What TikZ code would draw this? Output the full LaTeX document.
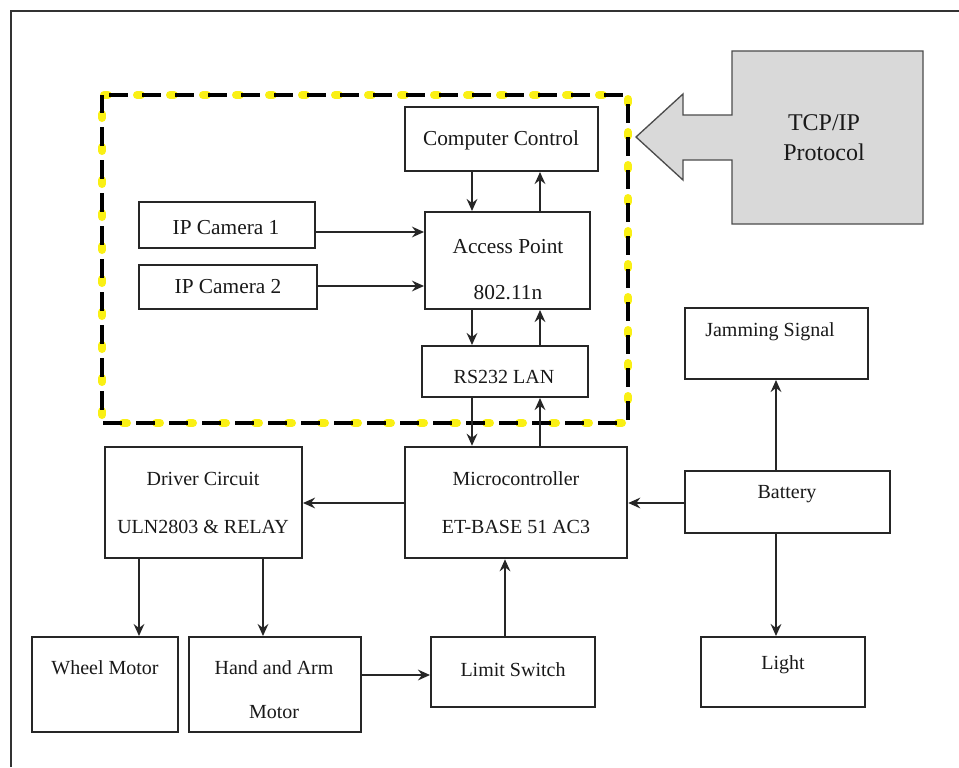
\documentclass[tikz,border=0pt]{standalone}
\usepackage{fontspec}
\setmainfont{Liberation Serif}
\usetikzlibrary{arrows.meta,fit}
\definecolor{tcpgray}{RGB}{217,217,217}
\definecolor{dashyellow}{RGB}{250,240,20}
\begin{document}
\begin{tikzpicture}[x=0.75pt,y=-0.75pt,
  box/.style={draw=black!85, line width=1.5pt, inner sep=0pt},
  txt/.style={font=\fontsize{15}{18}\selectfont, text=black!90, inner sep=0pt},
  bigtxt/.style={txt, font=\fontsize{16}{19}\selectfont},
  tcptxt/.style={txt, font=\fontsize{18}{21}\selectfont},
  arr/.style={draw=black!85, line width=1.5pt, -{Stealth[length=9pt,width=8pt,inset=3pt]}}]
\fill[white] (0,0) rectangle (959,767);
\useasboundingbox (0,0) rectangle (959,767);
% outer frame
\draw[line width=1pt, black!80] (11,767) -- (11,11) -- (959,11);
% dashed group
\draw[dashyellow, line width=6pt, line cap=round, dash pattern=on 3pt off 21.75pt, dash phase=23.25pt]
  (102,95) -- (628,95) -- (628,423) -- (102,423) -- cycle;
\draw[black, line width=3pt, dash pattern=on 14pt off 10.75pt, dash phase=19.4pt]
  (102,95) -- (628,95) -- (628,423) -- (102,423) -- cycle;
% TCP/IP shape
\draw[fill=tcpgray, draw=black!70, line width=1pt, line join=miter]
  (732,51) -- (923,51) -- (923,224) -- (732,224) -- (732,160) -- (683,160) -- (683,180)
  -- (636,137) -- (683,94) -- (683,115) -- (732,115) -- cycle;
\node[tcptxt] (tcpt) at (824,123) {TCP/IP};
\node[tcptxt] (tcpp) at (824,152) {Protocol};
% boxes
\node[box, fit={(405,107) (598,171)}] (cc) {};
\node[box, fit={(139,202) (315,248)}] (cam1) {};
\node[box, fit={(139,265) (317,309)}] (cam2) {};
\node[box, fit={(425,212) (590,309)}] (ap) {};
\node[box, fit={(422,346) (588,397)}] (rs) {};
\node[box, line width=1.9pt, fit={(405,447) (627,558)}] (mc) {};
\node[box, fit={(105,447) (302,558)}] (dr) {};
\node[box, fit={(685,308) (868,379)}] (jam) {};
\node[box, fit={(685,471) (890,533)}] (bat) {};
\node[box, fit={(701,637) (865,707)}] (light) {};
\node[box, fit={(431,637) (595,707)}] (lim) {};
\node[box, fit={(32,637) (178,732)}] (wheel) {};
\node[box, fit={(189,637) (361,732)}] (hand) {};
% texts
\node[bigtxt] (cct) at (501,140) {Computer Control};
\node[bigtxt] (cam1t) at (226,228) {IP Camera 1};
\node[bigtxt] (cam2t) at (228,287) {IP Camera 2};
\node[bigtxt] (apt1) at (508,247) {Access Point};
\node[bigtxt] (apt2) at (508,293) {802.11n};
\node[txt] (rst) at (504,377) {RS232 LAN};
\node[txt] (mct1) at (516,479) {Microcontroller};
\node[txt] (mct2) at (516,527) {ET-BASE 51 AC3};
\node[txt] (drt1) at (203,479) {Driver Circuit};
\node[txt] (drt2) at (203,527) {ULN2803 \& RELAY};
\node[txt] (jamt) at (770,332) {Jamming Signal};
\node[txt] (batt) at (787,494) {Battery};
\node[txt] (lightt) at (783,665) {Light};
\node[txt] (limt) at (513,670) {Limit Switch};
\node[txt] (wheelt) at (105,668) {Wheel Motor};
\node[txt] (handt1) at (274,668) {Hand and Arm};
\node[txt] (handt2) at (274,712) {Motor};
% guide coordinates
\coordinate (xa) at (472,0);
\coordinate (xb) at (540,0);
\coordinate (xd1) at (139,0);
\coordinate (xd2) at (263,0);
\coordinate (xl) at (505,0);
\coordinate (xbat) at (776,0);
\coordinate (y1) at (0,232);
\coordinate (y2) at (0,286);
\coordinate (y3) at (0,503);
\coordinate (y4) at (0,675);
% connectors
\draw[arr] (cc.south -| xa) -- (ap.north -| xa);
\draw[arr] (ap.north -| xb) -- (cc.south -| xb);
\draw[arr] (cam1.east |- y1) -- (ap.west |- y1);
\draw[arr] (cam2.east |- y2) -- (ap.west |- y2);
\draw[arr] (ap.south -| xa) -- (rs.north -| xa);
\draw[arr] (rs.north -| xb) -- (ap.south -| xb);
\draw[arr] (rs.south -| xa) -- (mc.north -| xa);
\draw[arr] (mc.north -| xb) -- (rs.south -| xb);
\draw[arr] (mc.west |- y3) -- (dr.east |- y3);
\draw[arr] (bat.west |- y3) -- (mc.east |- y3);
\draw[arr] (bat.north -| xbat) -- (jam.south -| xbat);
\draw[arr] (bat.south -| xbat) -- (light.north -| xbat);
\draw[arr] (dr.south -| xd1) -- (wheel.north -| xd1);
\draw[arr] (dr.south -| xd2) -- (hand.north -| xd2);
\draw[arr] (hand.east |- y4) -- (lim.west |- y4);
\draw[arr] (lim.north -| xl) -- (mc.south -| xl);
\end{tikzpicture}
\end{document}
